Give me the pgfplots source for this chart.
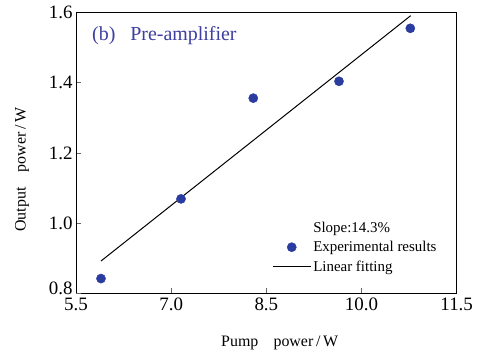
\documentclass[border=0pt]{standalone}
\usepackage{pgfplots}
\pgfplotsset{compat=1.18}
\usepackage{fontspec}
\setmainfont{Liberation Serif}
\definecolor{ptblue}{RGB}{43,60,160}
\definecolor{ttlblue}{RGB}{60,62,160}
\pgfplotsset{
  lineleg/.style={legend image code/.code={\draw[##1] (0bp,0bp) -- (38bp,0bp);}},
  markleg/.style={legend image code/.code={\draw[##1] plot coordinates {(19bp,0bp)};}},
}
\begin{document}
\begin{tikzpicture}[x=1bp,y=1bp]
\begin{axis}[
  at={(0,0)}, anchor=south west,
  scale only axis, width=380.7bp, height=280.8bp,
  xmin=5.5, xmax=11.5, ymin=0.8, ymax=1.6,
  xtick={5.5,7.0,8.5,10.0,11.5},
  ytick={1.0,1.2,1.4,1.6},
  extra y ticks={0.8},
  extra y tick style={yticklabel style={yshift=5bp}},
  tick align=inside, tick pos=left,
  major tick length=5bp,
  axis line style={line width=0.9bp},
  tick style={line width=0.7bp, black!60},
  /pgf/number format/assume math mode=true,
  xticklabel style={/pgf/number format/fixed,/pgf/number format/fixed zerofill,/pgf/number format/precision=1, font=\fontsize{19}{19}\selectfont, yshift=-1bp},
  yticklabel style={/pgf/number format/fixed,/pgf/number format/fixed zerofill,/pgf/number format/precision=1, font=\fontsize{19}{19}\selectfont},
  xlabel={Pump\hspace{0.95em}power\,/\,W},
  ylabel={Output\hspace{0.95em}power\,/\,W},
  label style={font=\fontsize{16}{16}\selectfont},
  every axis x label/.append style={at={(rel axis cs:0.535,0)}, anchor=center, yshift=-50bp},
  every axis y label/.append style={at={(rel axis cs:0,0.44)}, anchor=center, yshift=54bp},
  clip=false,
  legend style={draw=none, fill=none, at={(rel axis cs:0.515,0.262)}, anchor=north west,
    font=\fontsize{15}{15}\selectfont, legend cell align=left, row sep=3.5bp,
    inner sep=0bp, nodes={inner xsep=2bp}},
]
\addlegendimage{empty legend}
\addlegendentry{Slope:14.3\%}
\addplot[only marks, mark=*, mark size=4.6bp, color=ptblue, markleg]
  coordinates {(5.894,0.842) (7.155,1.069) (8.294,1.356) (9.645,1.404) (10.769,1.555)};
\addlegendentry{Experimental results}
\addplot[black, line width=1bp, no marks, lineleg]
  coordinates {(5.894,0.892) (10.775,1.591)};
\addlegendentry{Linear fitting}
\node[anchor=west, text=ttlblue, font=\fontsize{20}{20}\selectfont, inner sep=0bp]
  at (rel axis cs:0.042,0.916) {(b)\hspace{0.75em}Pre-amplifier};
\end{axis}
\pgfresetboundingbox
\path[use as bounding box] (-76bp,-58.7bp) rectangle (403bp,293.3bp);
\end{tikzpicture}
\end{document}
